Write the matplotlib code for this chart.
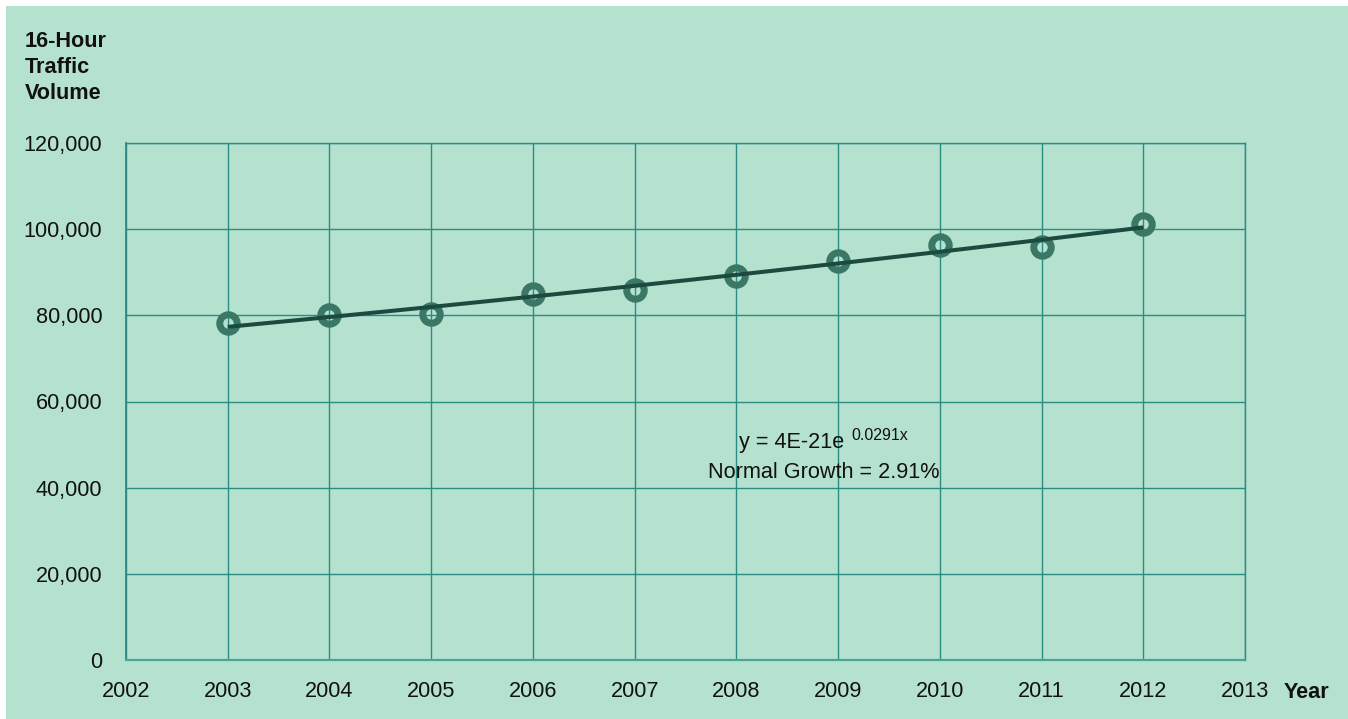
import numpy as np
import matplotlib
matplotlib.use("Agg")
import matplotlib.pyplot as plt
from matplotlib.patches import Rectangle
from matplotlib.ticker import FuncFormatter

years = [2003, 2004, 2005, 2006, 2007, 2008, 2009, 2010, 2011, 2012]
volume = [78200, 80000, 80200, 85000, 85900, 89100, 92600, 96300, 95800, 101200]
x_ticks = list(range(2002, 2014))
y_ticks = [0, 20000, 40000, 60000, 80000, 100000, 120000]
y_title = "16-Hour\nTraffic\nVolume"
x_title = "Year"
eq_text = "y = 4E-21e"
eq_sup = "0.0291x"
growth_text = "Normal Growth = 2.91%"

BG = "#b5e1cf"
GRID = "#2a8c83"
MARK = "#3a7765"
LINE = "#1c4a3f"
TXT = "#111111"
FS = 15.6

plt.rcParams['font.family'] = ['Liberation Sans', 'DejaVu Sans']

fig = plt.figure(figsize=(13.48, 7.19), dpi=100)
fig.patch.set_facecolor("white")
fig.add_artist(Rectangle((6/1348, 0), 1, 1 - 6/719, transform=fig.transFigure,
                         facecolor=BG, edgecolor="none", zorder=-10))

ax = fig.add_axes([126/1348, 1 - 660/719, 1119/1348, 517/719])
ax.set_facecolor(BG)
ax.patch.set_alpha(0)
ax.set_xlim(2002, 2013)
ax.set_ylim(0, 120000)
ax.set_xticks(x_ticks)
ax.set_yticks(y_ticks)
ax.yaxis.set_major_formatter(FuncFormatter(lambda v, p: f"{int(v):,}"))
ax.grid(True, color=GRID, linewidth=1.0, zorder=0)
for s in ax.spines.values():
    s.set_color(GRID)
    s.set_linewidth(1.0)
ax.spines['left'].set_linewidth(1.3)
ax.spines['bottom'].set_linewidth(1.6)
ax.spines['bottom'].set_color("#4aa596")
ax.tick_params(length=0, labelsize=FS, labelcolor=TXT)
ax.tick_params(axis='y', pad=17)
ax.tick_params(axis='x', pad=15)

# exponential trend fit
xs = np.array(years, dtype=float)
ys = np.array(volume, dtype=float)
b, a = np.polyfit(xs, np.log(ys), 1)
trend = np.exp(a + b * xs)

ax.plot(years, volume, linestyle="none", marker="o", markersize=12.6,
        markerfacecolor="none", markeredgecolor=MARK, markeredgewidth=5.0, zorder=3)
ax.plot(years, trend, color=LINE, linewidth=2.9, zorder=4, solid_capstyle="butt")

t1 = ax.text(2008.026, 49200, eq_text, fontsize=FS, color=TXT, ha="left", va="baseline")
ax.annotate(eq_sup, xy=(1, 1), xycoords=t1, xytext=(5, 3), textcoords="offset points",
            fontsize=11.5, color=TXT, ha="left", va="top")
ax.text(2008.857, 42250, growth_text, fontsize=FS, color=TXT, ha="center", va="baseline")

fig.text(25/1348, 1 - 31/719, y_title, fontsize=FS, fontweight="bold", color=TXT,
         ha="left", va="top", linespacing=1.32)
fig.text(1284/1348, 1 - 692/719, x_title, fontsize=FS, fontweight="bold", color=TXT,
         ha="left", va="center")

fig.savefig("out.png", dpi=100, facecolor=fig.get_facecolor())
